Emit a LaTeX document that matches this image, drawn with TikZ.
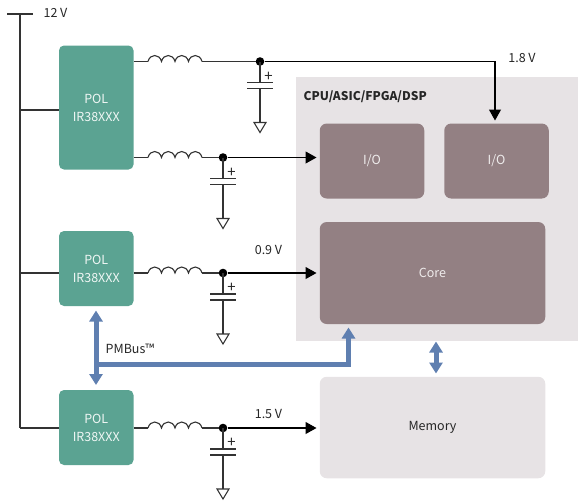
\documentclass[tikz,border=0pt]{standalone}
\usepackage{fontspec}
\setmainfont{Noto Sans CJK SC}
\usetikzlibrary{arrows.meta,positioning,calc}
\definecolor{polgreen}{HTML}{5BA392}
\definecolor{chipbrown}{HTML}{938083}
\definecolor{chiplight}{HTML}{E7E3E5}
\definecolor{busblue}{HTML}{5F7FB0}
\definecolor{wiregray}{HTML}{333333}

\begin{document}
\begin{tikzpicture}[
    x=1pt, y=-1pt, font=\fontsize{12.5}{18}\selectfont, text=black!85,
    wire/.style={draw=wiregray, line width=1.1pt},
    feed/.style={wire, -{Triangle[length=11pt,width=12pt]}, draw=black},
    pmbus/.style={draw=busblue, line width=5pt, line join=miter},
    pol/.style={draw=none, rounded corners=5pt, fill=polgreen, text=white!90!polgreen,
                minimum width=74.5pt, align=center, inner sep=0pt},
    chip/.style={draw=none, rounded corners=7pt, fill=#1, inner sep=0pt},
    dot/.style={circle, fill=black, draw=none, minimum size=8.6pt, inner sep=0pt},
    volt/.style={anchor=center, inner sep=0pt},
    pics/inductor/.style={code={
      \coordinate (-in) at (0,0);
      \coordinate (-out) at (54,0);
      \draw[wire] (0,0) .. controls +(2,-8) and +(-2,-8) .. ++(13.5,0)
        .. controls +(2,-8) and +(-2,-8) .. ++(13.5,0)
        .. controls +(2,-8) and +(-2,-8) .. ++(13.5,0)
        .. controls +(2,-8) and +(-2,-8) .. ++(13.5,0);
    }},
    pics/capgnd/.style={code={
      \draw[wire] (0,0) -- (0,21);
      \draw[wire] (-13,21) -- (13,21);
      \draw[wire] (-13,27) -- (13,27);
      \draw[wire] (0,27) -- (0,61);
      \draw[wire, fill=white, line join=miter] (-6,61) -- (6,61) -- (0,71) -- cycle;
      \node[inner sep=0pt, font=\fontsize{15}{18}\selectfont] (-plus) at (8.5,15) {+};
    }}]
  \useasboundingbox (0,0) rectangle (578,501);
  %% CPU block
  \node[fill=chiplight, minimum width=282pt, minimum height=264pt, inner sep=0pt] (cpu) at (437,209) {};
  \node[anchor=west, inner sep=0pt, font=\fontsize{12}{18}\selectfont\bfseries] (cpulabel) at (303.5,97) {CPU/ASIC/FPGA/DSP};
  \node[chip=chipbrown, minimum width=104.5pt, minimum height=75pt, text=white!85!chipbrown] (ioa) at (372,161) {I/O};
  \node[chip=chipbrown, minimum width=104.5pt, minimum height=75pt, text=white!85!chipbrown] (iob) at (496.5,161) {I/O};
  \node[chip=chipbrown, minimum width=225.5pt, minimum height=102pt, text=white!85!chipbrown] (core) at (432.5,273) {Core};
  \node[chip=chiplight, minimum width=225.5pt, minimum height=101.5pt] (mem) at (432.5,427.5) {Memory};
  %% POL regulators
  \node[pol, minimum height=124pt] (pola) at (96.25,107.5) {POL\\IR38XXX};
  \node[pol, minimum height=75pt]  (polb) at (96.25,268.5) {POL\\IR38XXX};
  \node[pol, minimum height=75pt]  (polc) at (96.25,427.5) {POL\\IR38XXX};
  %% 12 V bus
  \coordinate (barl) at (7,14);
  \coordinate (barr) at (33,14);
  \coordinate (bustop) at (20,14);
  \coordinate (busbot) at (20,428);
  \coordinate (tapa) at (20,110);
  \coordinate (tapb) at (20,273);
  \draw[wire] (barl) -- (barr);
  \draw[wire, line width=1.3pt] (bustop) -- (busbot);
  \node[volt] (vin) at (55.5,13) {12 V};
  \draw[wire] (tapa) -- (tapa -| pola.west);
  \draw[wire] (tapb) -- (tapb -| polb.west);
  \draw[wire] (busbot) -- (busbot -| polc.west);
  %% Output rails
  \pic (inda) at (148,61.5) {inductor};
  \pic (indb) at (148,157.5) {inductor};
  \pic (indc) at (148,273) {inductor};
  \pic (indd) at (148,428) {inductor};
  \node[dot] (dota) at (260,61.5) {};
  \node[dot] (dotb) at (223,157.5) {};
  \node[dot] (dotc) at (223,273) {};
  \node[dot] (dotd) at (223,428) {};
  \foreach \d in {a,b,c,d}
    \pic (cap\d) at (dot\d) {capgnd};
  \draw[wire] (pola.east |- inda-in) -- (inda-in);
  \draw[wire] (pola.east |- indb-in) -- (indb-in);
  \draw[wire] (polb.east |- indc-in) -- (indc-in);
  \draw[wire] (polc.east |- indd-in) -- (indd-in);
  \foreach \d in {a,b,c,d}
    \draw[wire] (ind\d-out) -- (dot\d);
  %% Feeds into the blocks
  \coordinate (bend) at (495,61.5);
  \coordinate (tipa) at (495,120.5);
  \coordinate (tipb) at (316.5,157.5);
  \coordinate (tipc) at (316.5,273);
  \coordinate (tipd) at (316.5,428);
  \draw[feed] (dota) -- (bend) -- (tipa);
  \draw[feed] (dotb) -- (tipb);
  \draw[feed] (dotc) -- (tipc);
  \draw[feed] (dotd) -- (tipd);
  \node[volt] (va) at (522,57.5) {1.8 V};
  \node[volt] (vc) at (268.5,249.5) {0.9 V};
  \node[volt] (vd) at (268.5,413.5) {1.5 V};
  %% PMBus
  \coordinate (pmtop) at (96,310.5);
  \coordinate (pmbot) at (96,385);
  \coordinate (pmjoin) at (96,364.5);
  \coordinate (pmcorner) at (348.5,364.5);
  \coordinate (pmcore) at (348.5,327.5);
  \coordinate (memtop) at (436,341.5);
  \coordinate (membot) at (436,373.5);
  \draw[pmbus, {Triangle[length=11pt,width=13pt]}-{Triangle[length=11pt,width=13pt]}] (pmtop) -- (pmbot);
  \draw[pmbus, -{Triangle[length=11pt,width=13pt]}] (pmjoin) -- (pmcorner) -- (pmcore);
  \draw[pmbus, {Triangle[length=11pt,width=13pt]}-{Triangle[length=11pt,width=13pt]}] (memtop) -- (membot);
  \node[anchor=west, inner sep=0pt] (pmlabel) at (105.5,349) {PMBus™};
\end{tikzpicture}
\end{document}
